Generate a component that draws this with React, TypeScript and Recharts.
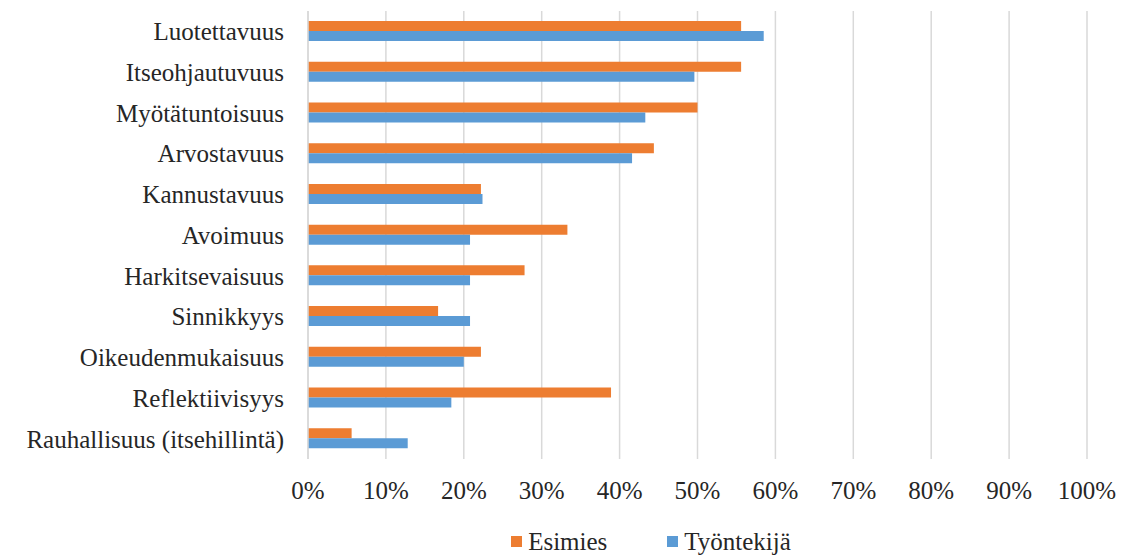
import { BarChart, Bar, XAxis, YAxis, CartesianGrid, Legend } from "recharts"

const categories = [
  "Luotettavuus",
  "Itseohjautuvuus",
  "Myötätuntoisuus",
  "Arvostavuus",
  "Kannustavuus",
  "Avoimuus",
  "Harkitsevaisuus",
  "Sinnikkyys ",
  "Oikeudenmukaisuus",
  "Reflektiivisyys",
  "Rauhallisuus (itsehillintä)",
]

// shares in percent
const esimies = [55.6, 55.6, 50.0, 44.4, 22.2, 33.3, 27.8, 16.7, 22.2, 38.9, 5.6]
const tyontekija = [58.5, 49.6, 43.3, 41.6, 22.4, 20.8, 20.8, 20.8, 20.0, 18.4, 12.8]

const xTicks = [0, 10, 20, 30, 40, 50, 60, 70, 80, 90, 100]

const ORANGE = "#ED7D31"
const BLUE = "#5B9BD5"
const TEXT = "#262626"
const FONT = "Liberation Serif, Times New Roman, DejaVu Serif, serif"

const data = categories.map((name, i) => ({
  name,
  esimies: esimies[i],
  tyontekija: tyontekija[i],
}))

function LegendBox() {
  const items = [
    { label: "Esimies", color: ORANGE },
    { label: "Työntekijä", color: BLUE },
  ]
  return (
    <div
      style={{
        display: "flex",
        justifyContent: "center",
        gap: 60,
        paddingLeft: 215,
        paddingTop: 22,
        boxSizing: "border-box",
        height: 52,
        alignItems: "flex-start",
        fontFamily: FONT,
        fontSize: 25,
        lineHeight: "29px",
        color: TEXT,
      }}
    >
      {items.map((it) => (
        <div key={it.label} style={{ display: "flex", alignItems: "center", gap: 6 }}>
          <span style={{ width: 11, height: 11, background: it.color, display: "inline-block" }} />
          <span>{it.label}</span>
        </div>
      ))}
    </div>
  )
}

export default function App() {
  return (
    <div style={{ position: "absolute", left: 0, top: 0, width: 1134, height: 557, background: "#fff" }}>
      <BarChart
        width={1134}
        height={557}
        data={data}
        layout="vertical"
        margin={{ top: 11, right: 47, bottom: 0, left: 0 }}
        barGap={0}
        barSize={10}
      >
        <CartesianGrid horizontal={false} stroke="#D9D9D9" strokeWidth={1.5} />
        <XAxis
          type="number"
          domain={[0, 100]}
          ticks={xTicks}
          tickFormatter={(v) => `${v}%`}
          axisLine={false}
          tickLine={false}
          tickSize={0}
          tickMargin={22}
          height={46}
          interval={0}
          tick={{ fill: TEXT, fontFamily: FONT, fontSize: 25 }}
        />
        <YAxis
          type="category"
          dataKey="name"
          width={308}
          axisLine={{ stroke: "#D9D9D9", strokeWidth: 1.5 }}
          tickLine={false}
          tickSize={0}
          tickMargin={24}
          interval={0}
          tick={{ fill: TEXT, fontFamily: FONT, fontSize: 25 }}
        />
        <Legend verticalAlign="bottom" content={() => <LegendBox />} />
        <Bar dataKey="esimies" name="Esimies" fill={ORANGE} isAnimationActive={false} />
        <Bar dataKey="tyontekija" name="Työntekijä" fill={BLUE} isAnimationActive={false} />
      </BarChart>
    </div>
  )
}
